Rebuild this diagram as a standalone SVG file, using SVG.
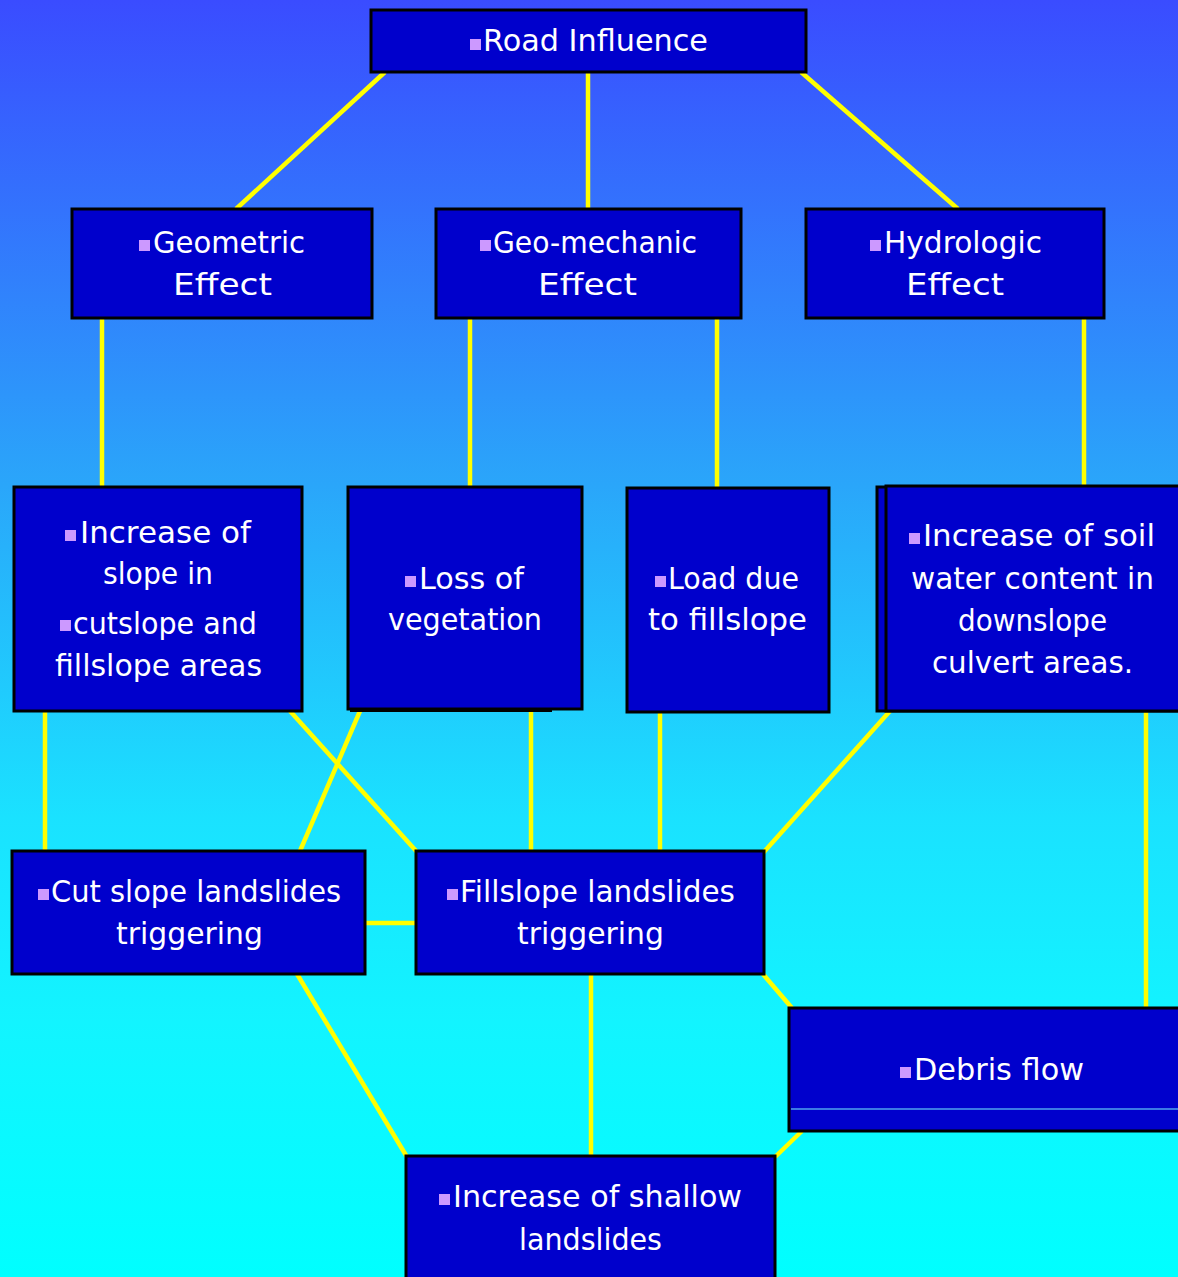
<svg xmlns="http://www.w3.org/2000/svg" width="1178" height="1277" viewBox="0 0 1178 1277">
<defs>
<linearGradient id="bg" x1="0" y1="0" x2="0" y2="1">
<stop offset="0" stop-color="#3A4CFF"/>
<stop offset="0.38" stop-color="#2AA6FA"/>
<stop offset="0.64" stop-color="#1AE2FF"/>
<stop offset="0.8" stop-color="#12F4FF"/>
<stop offset="1" stop-color="#00FFFF"/>
</linearGradient>
<style>
.box{fill:#0000CC;stroke:#000;stroke-width:3}
.t{font-family:"DejaVu Sans","Liberation Sans",sans-serif;font-size:31px;fill:#FFFFFF}
.b{fill:#CC99FF}
.c line{stroke:#FFFF00;stroke-width:4.5}
</style>
</defs>
<rect width="1178" height="1277" fill="url(#bg)"/>
<g id="connectors" class="c">
<line x1="385" y1="72" x2="236" y2="209"/>
<line x1="588" y1="72" x2="588" y2="209"/>
<line x1="801" y1="72" x2="958" y2="209"/>
<line x1="102" y1="318" x2="102" y2="487"/>
<line x1="470" y1="318" x2="470" y2="487"/>
<line x1="717" y1="318" x2="717" y2="488"/>
<line x1="1084" y1="318" x2="1084" y2="487"/>
<line x1="45" y1="711" x2="45" y2="851"/>
<line x1="290" y1="711" x2="417" y2="852"/>
<line x1="360" y1="711" x2="300" y2="851"/>
<line x1="531" y1="709" x2="531" y2="851"/>
<line x1="660" y1="712" x2="660" y2="851"/>
<line x1="890" y1="711" x2="763" y2="853"/>
<line x1="1146" y1="711" x2="1146" y2="1008"/>
<line x1="365" y1="923" x2="416" y2="923"/>
<line x1="297" y1="974" x2="407" y2="1157"/>
<line x1="591" y1="974" x2="591" y2="1156"/>
<line x1="762" y1="973" x2="792" y2="1008"/>
<line x1="802" y1="1131" x2="775" y2="1157"/>
</g>
<g id="road">
<rect class="box" x="371" y="10" width="435" height="62"/>
<rect class="b" x="470" y="39" width="11" height="11"/>
<text class="t" x="483" y="51" textLength="225" lengthAdjust="spacingAndGlyphs">Road Influence</text>
</g>
<g id="geometric">
<rect class="box" x="72" y="209" width="300" height="109"/>
<rect class="b" x="139" y="240" width="11" height="11"/>
<text class="t" x="153" y="253" textLength="152" lengthAdjust="spacingAndGlyphs">Geometric</text>
<text class="t" x="173" y="295" textLength="99" lengthAdjust="spacingAndGlyphs">Effect</text>
</g>
<g id="geomechanic">
<rect class="box" x="436" y="209" width="305" height="109"/>
<rect class="b" x="480" y="240" width="11" height="11"/>
<text class="t" x="493" y="253" textLength="204" lengthAdjust="spacingAndGlyphs">Geo-mechanic</text>
<text class="t" x="538" y="295" textLength="99" lengthAdjust="spacingAndGlyphs">Effect</text>
</g>
<g id="hydrologic">
<rect class="box" x="806" y="209" width="298" height="109"/>
<rect class="b" x="870" y="240" width="11" height="11"/>
<text class="t" x="884" y="253" textLength="158" lengthAdjust="spacingAndGlyphs">Hydrologic</text>
<text class="t" x="906" y="295" textLength="98" lengthAdjust="spacingAndGlyphs">Effect</text>
</g>
<g id="slope">
<rect class="box" x="14" y="487" width="288" height="224"/>
<rect class="b" x="65" y="530" width="11" height="11"/>
<text class="t" x="80" y="543" textLength="171" lengthAdjust="spacingAndGlyphs">Increase of</text>
<text class="t" x="103" y="584" textLength="110" lengthAdjust="spacingAndGlyphs">slope in</text>
<rect class="b" x="60" y="620" width="11" height="11"/>
<text class="t" x="73" y="634" textLength="184" lengthAdjust="spacingAndGlyphs">cutslope and</text>
<text class="t" x="55" y="676" textLength="207" lengthAdjust="spacingAndGlyphs">fillslope areas</text>
</g>
<g id="vegetation">
<rect x="350" y="489" width="202" height="223" fill="#000"/>
<rect class="box" x="348" y="487" width="234" height="222"/>
<rect class="b" x="405" y="576" width="11" height="11"/>
<text class="t" x="419" y="589" textLength="105" lengthAdjust="spacingAndGlyphs">Loss of</text>
<text class="t" x="388" y="630" textLength="154" lengthAdjust="spacingAndGlyphs">vegetation</text>
</g>
<g id="load">
<rect class="box" x="627" y="488" width="202" height="224"/>
<rect class="b" x="655" y="576" width="11" height="11"/>
<text class="t" x="668" y="589" textLength="131" lengthAdjust="spacingAndGlyphs">Load due</text>
<text class="t" x="648" y="630" textLength="159" lengthAdjust="spacingAndGlyphs">to fillslope</text>
</g>
<g id="soilwater">
<rect class="box" x="877" y="487" width="310" height="224"/>
<rect class="box" x="886" y="486" width="300" height="225"/>
<rect class="b" x="909" y="533" width="11" height="11"/>
<text class="t" x="923" y="546" textLength="232" lengthAdjust="spacingAndGlyphs">Increase of soil</text>
<text class="t" x="911" y="589" textLength="243" lengthAdjust="spacingAndGlyphs">water content in</text>
<text class="t" x="958" y="631" textLength="149" lengthAdjust="spacingAndGlyphs">downslope</text>
<text class="t" x="932" y="673" textLength="201" lengthAdjust="spacingAndGlyphs">culvert areas.</text>
</g>
<g id="cutslope">
<rect class="box" x="12" y="851" width="353" height="123"/>
<rect class="b" x="38" y="889" width="11" height="11"/>
<text class="t" x="51" y="902" textLength="290" lengthAdjust="spacingAndGlyphs">Cut slope landslides</text>
<text class="t" x="116" y="944" textLength="147" lengthAdjust="spacingAndGlyphs">triggering</text>
</g>
<g id="fillslope">
<rect class="box" x="416" y="851" width="348" height="123"/>
<rect class="b" x="447" y="889" width="11" height="11"/>
<text class="t" x="460" y="902" textLength="275" lengthAdjust="spacingAndGlyphs">Fillslope landslides</text>
<text class="t" x="517" y="944" textLength="147" lengthAdjust="spacingAndGlyphs">triggering</text>
</g>
<g id="debris">
<rect class="box" x="789" y="1008" width="400" height="123"/>
<line x1="791" y1="1109" x2="1178" y2="1109" stroke="#77F4FF" stroke-width="1.2"/>
<rect class="b" x="900" y="1067" width="11" height="11"/>
<text class="t" x="914" y="1080" textLength="170" lengthAdjust="spacingAndGlyphs">Debris flow</text>
</g>
<g id="shallow">
<rect class="box" x="406" y="1156" width="369" height="130"/>
<rect class="b" x="439" y="1194" width="11" height="11"/>
<text class="t" x="453" y="1207" textLength="289" lengthAdjust="spacingAndGlyphs">Increase of shallow</text>
<text class="t" x="519" y="1250" textLength="143" lengthAdjust="spacingAndGlyphs">landslides</text>
</g>
</svg>
